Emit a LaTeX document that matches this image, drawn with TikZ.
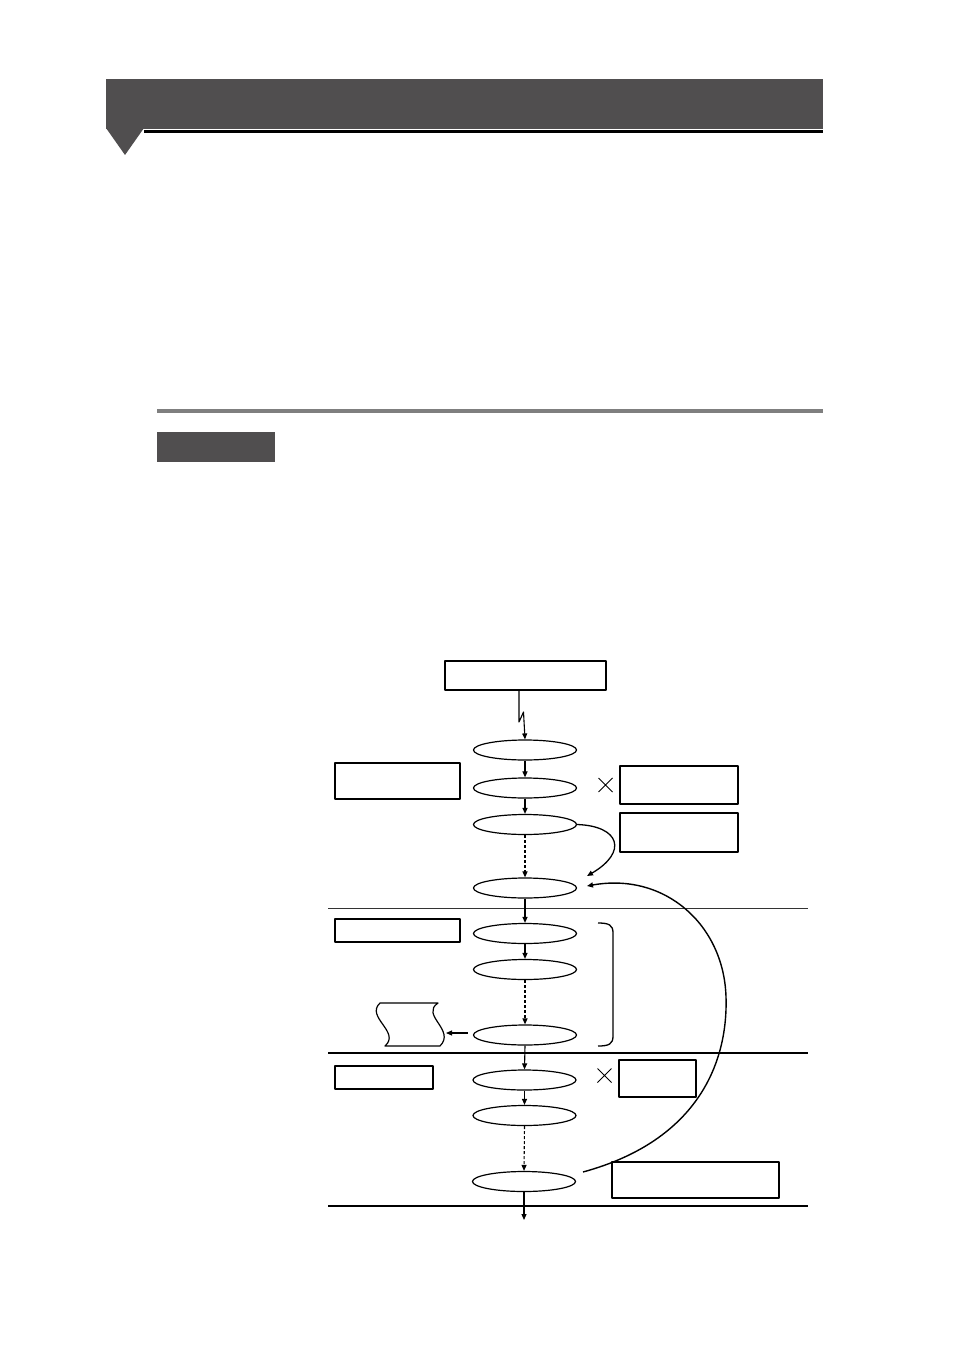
\documentclass[tikz,border=0pt]{standalone}
\usetikzlibrary{shapes.geometric,shapes.misc,arrows.meta}
\definecolor{hdark}{HTML}{504E4F}
\definecolor{hgray}{HTML}{7F7F7F}
\begin{document}
\begin{tikzpicture}[x=1pt,y=-1pt,
  ell/.style={draw,ellipse,minimum width=103,minimum height=20,inner sep=0,line width=1.2pt},
  box/.style={draw,rectangle,inner sep=0,line width=1.2pt},
  arr/.style={-{Triangle[length=6pt,width=5pt]},line width=1.1pt},
  darr/.style={arr,dashed,dash pattern=on 3pt off 2pt},
  xmark/.style={draw,cross out,minimum size=13,inner sep=0,line width=1pt},
  sep/.style={line width=1.8pt},
  line join=round]
\useasboundingbox (0,0) rectangle (954,1348);
\fill[white] (0,0) rectangle (954,1348);
% header
\fill[hdark] (106,79) rectangle (823,129);
\fill[hdark] (106,128) -- (144,128) -- (125,155) -- cycle;
\fill[black] (144,130.5) rectangle (823,133);
% section rule and tag
\fill[hgray] (157,409) rectangle (823,413);
\fill[hdark] (157,432) rectangle (275,462);
% flow nodes
\node[box,minimum width=161,minimum height=29] (top) at (525.5,675.5) {};
\node[ell] (e1) at (525,750) {};
\node[ell] (e2) at (525,788) {};
\node[ell] (e3) at (525,824.5) {};
\node[ell] (e4) at (525,888) {};
\node[ell] (e5) at (525,933.5) {};
\node[ell] (e6) at (525,969.5) {};
\node[ell] (e7) at (525,1035) {};
\node[ell] (e8) at (524.5,1080) {};
\node[ell] (e9) at (524.5,1115.5) {};
\node[ell] (e10) at (524,1181.5) {};
% side boxes
\node[box,minimum width=125,minimum height=36] (bA) at (397.5,781) {};
\node[box,minimum width=118,minimum height=38] (bB) at (679,785) {};
\node[box,minimum width=118,minimum height=39] (bC) at (679,832.5) {};
\node[box,minimum width=125,minimum height=23] (bD) at (397.5,930.5) {};
\node[box,minimum width=98,minimum height=23] (bE) at (384,1077.5) {};
\node[box,minimum width=77,minimum height=37] (bF) at (657.5,1078.5) {};
\node[box,minimum width=167,minimum height=36] (bG) at (695.5,1180) {};
\node[xmark] (x1) at (605.5,785) {};
\node[xmark] (x2) at (604.5,1075.5) {};
% separators
\draw[line width=1pt,black!80] (328,908) -- (808,908);
\draw[sep] (328,1053) -- (808,1053);
\draw[sep] (328,1206) -- (808,1206);
% lightning connector
\coordinate (l1) at (519,690.5);
\draw[arr] (l1) -- (519,722) -- (523.5,712) -- (e1.north);
% arrows
\draw[arr] (e1.south) -- (e2.north);
\draw[arr] (e2.south) -- (e3.north);
\draw[darr] (e3.south) -- (e4.north);
\draw[arr] (e4.south) -- (e5.north);
\draw[arr] (e5.south) -- (e6.north);
\draw[darr] (e6.south) -- (e7.north);
\draw[arr] (e7.south) -- (e8.north);
\draw[arr] (e8.south) -- (e9.north);
\draw[darr] (e9.south) -- (e10.north);
\coordinate (endp) at (524,1220);
\draw[arr] (e10.south) -- (endp);
% curved arrow e3 -> e4
\coordinate (c34) at (587,876);
\draw[arr,line width=1.3pt] (e3.east) .. controls (620,826) and (628,852) .. (c34);
% long loop arrow
\coordinate (lstart) at (583,1172);
\coordinate (lend) at (587,886);
\draw[arr,line width=1.4pt] (lstart) .. controls (700,1140) and (728,1060) .. (726,997)
  .. controls (724,925) and (665,872) .. (lend);
% brace
\draw[line width=1.3pt] (598,923) .. controls (609,923) and (613,925) .. (613,933)
  -- (613,1036) .. controls (613,1044) and (609,1046) .. (598,1046);
% document shape
\draw[line width=1.2pt] (380,1003) -- (438,1003)
  .. controls (420,1015) and (456,1030) .. (440,1046)
  -- (385,1046) .. controls (401,1032) and (365,1017) .. (380,1003) -- cycle;
\coordinate (docR) at (446,1033);
\draw[arr] ([xshift=-5pt,yshift=2pt]e7.west) -- (docR);
\end{tikzpicture}
\end{document}
